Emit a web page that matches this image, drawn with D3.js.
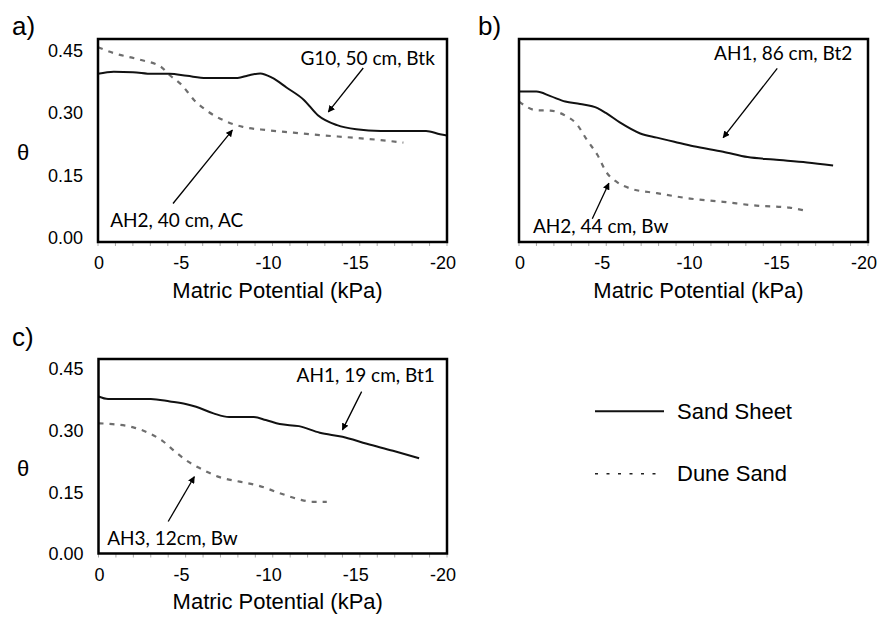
<!DOCTYPE html>
<html>
<head>
<meta charset="utf-8">
<script src="https://cdn.jsdelivr.net/npm/d3@7"></script>
<style>
  body { margin: 0; background: #fff; }
  svg { display: block; }
</style>
</head>
<body>
<svg id="chart" width="877" height="618"></svg>
<script>
// 축 눈금
const kpaTicks = [0, -5, -10, -15, -20];
const kpaMinor = d3.range(0, -21, -1);
const thetaTicks = [0, 0.15, 0.3, 0.45];

// a) G10, 50 cm, Btk (sand sheet) / AH2, 40 cm, AC (dune sand)
const aSolidKpa = [0, -0.9, -2.0, -3.1, -4.1, -5.1, -6.2, -8.0, -8.6, -9.3, -10.0, -10.8, -11.8, -12.6, -13.7, -14.8, -16.2, -18.8, -19.6, -20];
const aSolidTheta = [0.395, 0.4, 0.399, 0.395, 0.395, 0.39, 0.385, 0.385, 0.391, 0.396, 0.385, 0.362, 0.332, 0.295, 0.271, 0.261, 0.257, 0.257, 0.249, 0.246];
const aDashKpa = [0, -0.9, -2.4, -3.6, -4.1, -4.8, -5.5, -6.2, -7.4, -8.3, -9.7, -11.2, -12.7, -14.6, -16.2, -17.5];
const aDashTheta = [0.459, 0.445, 0.429, 0.412, 0.392, 0.368, 0.332, 0.307, 0.279, 0.267, 0.259, 0.253, 0.247, 0.241, 0.235, 0.229];

// b) AH1, 86 cm, Bt2 / AH2, 44 cm, Bw
const bSolidKpa = [0, -1.0, -1.8, -2.65, -3.5, -4.5, -5.0, -5.8, -6.95, -7.9, -8.9, -10.0, -11.7, -13.1, -14.6, -16.5, -18.0];
const bSolidTheta = [0.352, 0.352, 0.341, 0.328, 0.322, 0.312, 0.3, 0.277, 0.251, 0.241, 0.231, 0.22, 0.207, 0.194, 0.188, 0.181, 0.174];
const bDashKpa = [0, -1.0, -1.8, -2.7, -3.3, -3.9, -4.5, -5.0, -5.6, -6.4, -7.9, -9.8, -11.7, -13.6, -15.5, -16.5];
const bDashTheta = [0.328, 0.307, 0.306, 0.293, 0.274, 0.235, 0.199, 0.158, 0.134, 0.118, 0.107, 0.094, 0.086, 0.077, 0.072, 0.064];

// c) AH1, 19 cm, Bt1 / AH3, 12cm, Bw
const cSolidKpa = [0, -0.55, -2.0, -3.0, -4.1, -5.0, -5.6, -6.6, -7.5, -8.9, -9.6, -10.4, -11.5, -12.7, -14.0, -15.4, -16.9, -18.4];
const cSolidTheta = [0.383, 0.377, 0.377, 0.377, 0.371, 0.365, 0.358, 0.342, 0.333, 0.333, 0.326, 0.316, 0.311, 0.295, 0.285, 0.268, 0.251, 0.233];
const cDashKpa = [0, -0.8, -2.0, -2.9, -3.65, -4.4, -5.0, -5.8, -6.95, -8.1, -9.2, -10.4, -11.5, -12.3, -13.1];
const cDashTheta = [0.318, 0.316, 0.308, 0.294, 0.276, 0.249, 0.229, 0.209, 0.187, 0.176, 0.166, 0.148, 0.133, 0.127, 0.127];

const legendLabels = ["Sand Sheet", "Dune Sand"];

const axisFont = "'Liberation Sans', Arial, sans-serif";
const noteFont = "Lato, 'Open Sans', sans-serif";
const dashColor = "#6e6e6e";

const svg = d3.select("#chart");

svg.append("defs").append("marker")
  .attr("id", "head")
  .attr("viewBox", "0 0 10 10")
  .attr("refX", 9).attr("refY", 5)
  .attr("markerWidth", 7).attr("markerHeight", 7)
  .attr("markerUnits", "userSpaceOnUse")
  .attr("orient", "auto")
  .append("path").attr("d", "M0,0L10,5L0,10Z").attr("fill", "#000");

const panels = [
  {
    tag: "a)", tagX: 12, tagY: 35,
    box: { left: 98, right: 447, top: 39, bottom: 242 }, y0: 237.5, y45: 51,
    yLabels: true,
    solid: [aSolidKpa, aSolidTheta], dash: [aDashKpa, aDashTheta],
    notes: [
      { text: "G10, 50 cm, Btk", x: -19.3, y: 0.416, anchor: "end", from: [-15.2, 0.409], to: [-13.2, 0.303] },
      { text: "AH2, 40 cm, AC", x: -0.7, y: 0.025, anchor: "start", from: [-4.3, 0.082], to: [-7.7, 0.259] }
    ]
  },
  {
    tag: "b)", tagX: 478, tagY: 35,
    box: { left: 519, right: 868, top: 39, bottom: 242 }, y0: 237.5, y45: 51,
    yLabels: false,
    solid: [bSolidKpa, bSolidTheta], dash: [bDashKpa, bDashTheta],
    notes: [
      { text: "AH1, 86 cm, Bt2", x: -19.1, y: 0.429, anchor: "end", from: [-14.8, 0.408], to: [-11.7, 0.241] },
      { text: "AH2, 44 cm, Bw", x: -0.8, y: 0.01, anchor: "start", from: [-4.2, 0.045], to: [-5.15, 0.131] }
    ]
  },
  {
    tag: "c)", tagX: 12, tagY: 346,
    box: { left: 98.5, right: 447, top: 359, bottom: 553.5 }, y0: 554, y45: 369,
    yLabels: true,
    solid: [cSolidKpa, cSolidTheta], dash: [cDashKpa, cDashTheta],
    notes: [
      { text: "AH1, 19 cm, Bt1", x: -19.3, y: 0.419, anchor: "end", from: [-15.1, 0.395], to: [-14.0, 0.302] },
      { text: "AH3, 12cm, Bw", x: -0.5, y: 0.022, anchor: "start", from: [-4.0, 0.079], to: [-5.5, 0.188] }
    ]
  }
];

panels.forEach(drawPanel);
drawLegend();

function drawPanel(p) {
  const { box } = p;
  const x = d3.scaleLinear().domain([0, -20]).range([box.left, box.right]);
  const y = d3.scaleLinear().domain([0, 0.45]).range([p.y0, p.y45]);
  const g = svg.append("g");

  // 아래쪽 작은 눈금
  g.selectAll(".minor")
    .data(kpaMinor)
    .enter()
    .append("line")
    .attr("x1", (d) => x(d)).attr("x2", (d) => x(d))
    .attr("y1", box.bottom).attr("y2", box.bottom + 4)
    .attr("stroke", "#aaa").attr("stroke-width", 1);

  g.selectAll(".xlab")
    .data(kpaTicks)
    .enter()
    .append("text")
    .attr("x", (d) => x(d) + (d < 0 ? -4 : 1))
    .attr("y", box.bottom + 21)
    .attr("dy", "0.35em")
    .attr("text-anchor", "middle")
    .style("font-family", axisFont)
    .style("font-size", "18px")
    .text((d) => d);

  g.append("text")
    .attr("x", (box.left + box.right) / 2 + 5)
    .attr("y", box.bottom + 48)
    .attr("dy", "0.35em")
    .attr("text-anchor", "middle")
    .style("font-family", axisFont)
    .style("font-size", "22px")
    .text("Matric Potential (kPa)");

  if (p.yLabels) {
    g.selectAll(".ylab")
      .data(thetaTicks)
      .enter()
      .append("text")
      .attr("x", box.left - 15)
      .attr("y", (d) => y(d))
      .attr("dy", "0.35em")
      .attr("text-anchor", "end")
      .style("font-family", axisFont)
      .style("font-size", "18px")
      .text((d) => d.toFixed(2));

    g.append("text")
      .attr("x", 23)
      .attr("y", (box.top + box.bottom) / 2 + 12)
      .attr("dy", "0.35em")
      .attr("text-anchor", "middle")
      .style("font-family", axisFont)
      .style("font-size", "22px")
      .text("θ");
  }

  g.append("text")
    .attr("x", p.tagX)
    .attr("y", p.tagY)
    .style("font-family", axisFont)
    .style("font-size", "26px")
    .text(p.tag);

  const line = d3.line()
    .x((d) => x(d[0]))
    .y((d) => y(d[1]))
    .curve(d3.curveMonotoneX);

  g.append("path")
    .datum(d3.zip(p.dash[0], p.dash[1]))
    .attr("d", line)
    .attr("fill", "none")
    .attr("stroke", dashColor)
    .attr("stroke-width", 2.2)
    .attr("stroke-dasharray", "5 6");

  g.append("path")
    .datum(d3.zip(p.solid[0], p.solid[1]))
    .attr("d", line)
    .attr("fill", "none")
    .attr("stroke", "#111")
    .attr("stroke-width", 2);

  p.notes.forEach((n) => {
    g.append("line")
      .attr("x1", x(n.from[0])).attr("y1", y(n.from[1]))
      .attr("x2", x(n.to[0])).attr("y2", y(n.to[1]))
      .attr("stroke", "#000").attr("stroke-width", 1.3)
      .attr("marker-end", "url(#head)");
    g.append("text")
      .attr("x", x(n.x))
      .attr("y", y(n.y))
      .attr("text-anchor", n.anchor)
      .style("font-family", noteFont)
      .style("font-size", "19px")
      .text(n.text);
  });

  // 테두리
  g.append("rect")
    .attr("x", box.left).attr("y", box.top)
    .attr("width", box.right - box.left)
    .attr("height", box.bottom - box.top)
    .attr("fill", "none")
    .attr("stroke", "#000")
    .attr("stroke-width", 2.5);
}

function drawLegend() {
  const lg = svg.append("g");
  const rows = d3.scaleBand().domain(legendLabels).range([380, 505]);
  const styles = [
    { stroke: "#111", width: 2, dash: null },
    { stroke: "#222", width: 1.5, dash: "3 8.5" }
  ];
  legendLabels.forEach((label, i) => {
    const cy = rows(label) + rows.bandwidth() / 2;
    lg.append("line")
      .attr("x1", 595).attr("x2", 664)
      .attr("y1", cy).attr("y2", cy)
      .attr("stroke", styles[i].stroke)
      .attr("stroke-width", styles[i].width)
      .attr("stroke-dasharray", styles[i].dash);
    lg.append("text")
      .attr("x", 677)
      .attr("y", cy)
      .attr("dy", "0.35em")
      .style("font-family", axisFont)
      .style("font-size", "22px")
      .text(label);
  });
}
</script>
</body>
</html>
